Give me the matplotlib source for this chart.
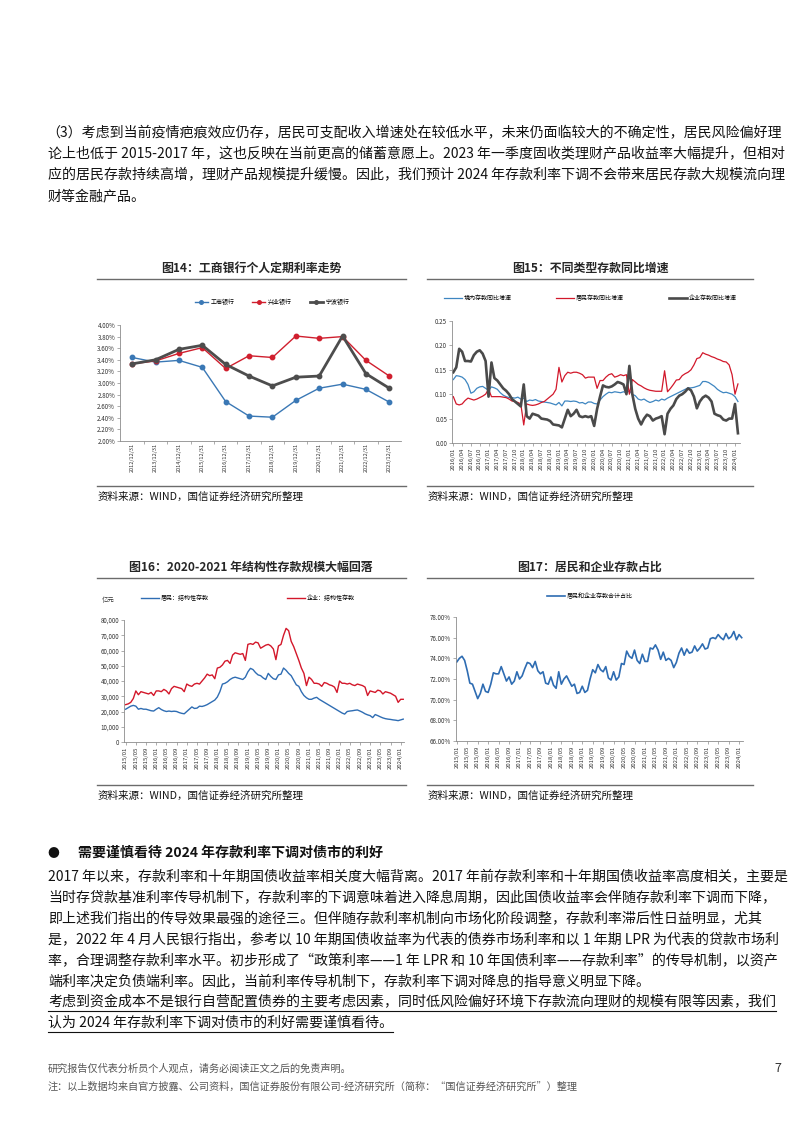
import matplotlib
matplotlib.use('Agg')
import matplotlib.pyplot as plt
from matplotlib.lines import Line2D
from matplotlib.ticker import FuncFormatter, MultipleLocator
import numpy as np

plt.rcParams['font.family'] = ['Noto Sans CJK SC', 'DejaVu Sans']
plt.rcParams['axes.unicode_minus'] = False

# ---------------- data ----------------
# Fig 14
years14 = ['2012/12/31', '2013/12/31', '2014/12/31', '2015/12/31', '2016/12/31', '2017/12/31',
           '2018/12/31', '2019/12/31', '2020/12/31', '2021/12/31', '2022/12/31', '2023/12/31']
icbc = [3.44, 3.36, 3.39, 3.27, 2.68, 2.43, 2.41, 2.70, 2.91, 2.98, 2.89, 2.67]
cib = [3.33, 3.38, 3.51, 3.61, 3.25, 3.47, 3.44, 3.81, 3.77, 3.80, 3.39, 3.12]
nbb = [3.33, 3.40, 3.58, 3.65, 3.32, 3.12, 2.95, 3.10, 3.12, 3.81, 3.16, 2.91]
names14 = ['工商银行', '兴业银行', '宁波银行']

# Fig 15 (monthly, 2016/01 - 2024/02)
names15 = ['境内存款同比增速', '居民存款同比增速', '企业存款同比增速']
domestic = [0.130, 0.138, 0.137, 0.135, 0.130, 0.120, 0.102, 0.105, 0.112, 0.115, 0.116, 0.112,
            0.108, 0.115, 0.113, 0.110, 0.103, 0.098, 0.095, 0.093, 0.093, 0.092, 0.094, 0.090,
            0.092, 0.085, 0.088, 0.087, 0.089, 0.086, 0.085, 0.084, 0.083, 0.082, 0.080, 0.078,
            0.083, 0.076, 0.086, 0.086, 0.085, 0.086, 0.085, 0.082, 0.083, 0.080, 0.084, 0.084,
            0.081, 0.080, 0.088, 0.095, 0.100, 0.104, 0.103, 0.105, 0.104, 0.103, 0.105, 0.103,
            0.107, 0.100, 0.097, 0.090, 0.088, 0.090, 0.086, 0.083, 0.085, 0.088, 0.086, 0.090,
            0.088, 0.092, 0.095, 0.098, 0.101, 0.104, 0.107, 0.110, 0.113, 0.113, 0.114, 0.116,
            0.118, 0.126, 0.126, 0.124, 0.120, 0.116, 0.110, 0.106, 0.103, 0.104, 0.102, 0.100,
            0.095, 0.085]
resident = [0.095, 0.080, 0.078, 0.080, 0.087, 0.092, 0.090, 0.088, 0.090, 0.093, 0.096, 0.100,
            0.110, 0.095, 0.095, 0.095, 0.095, 0.094, 0.093, 0.090, 0.086, 0.085, 0.083, 0.080,
            0.037, 0.080, 0.078, 0.077, 0.078, 0.080, 0.083, 0.085, 0.090, 0.095, 0.100, 0.110,
            0.155, 0.125, 0.138, 0.145, 0.143, 0.145, 0.145, 0.143, 0.140, 0.133, 0.135, 0.135,
            0.135, 0.112, 0.128, 0.128, 0.135, 0.140, 0.142, 0.135, 0.137, 0.140, 0.138, 0.140,
            0.100, 0.130, 0.125, 0.120, 0.117, 0.113, 0.110, 0.108, 0.107, 0.106, 0.106, 0.106,
            0.148, 0.105, 0.112, 0.120, 0.129, 0.130, 0.138, 0.142, 0.145, 0.150, 0.160, 0.173,
            0.175, 0.185, 0.182, 0.180, 0.177, 0.175, 0.172, 0.170, 0.167, 0.166, 0.160, 0.140,
            0.100, 0.121]
enterprise = [0.145, 0.155, 0.193, 0.187, 0.168, 0.168, 0.167, 0.180, 0.187, 0.190, 0.183, 0.168,
              0.095, 0.165, 0.133, 0.128, 0.120, 0.112, 0.107, 0.100, 0.090, 0.085, 0.080, 0.075,
              0.120, 0.055, 0.050, 0.060, 0.058, 0.056, 0.050, 0.049, 0.048, 0.045, 0.038, 0.037,
              0.036, 0.032, 0.050, 0.068, 0.055, 0.060, 0.068, 0.055, 0.053, 0.055, 0.053, 0.055,
              0.035, 0.070, 0.095, 0.118, 0.115, 0.114, 0.116, 0.120, 0.125, 0.123, 0.120, 0.100,
              0.158, 0.100, 0.070, 0.050, 0.038, 0.050, 0.058, 0.055, 0.046, 0.050, 0.052, 0.055,
              0.018, 0.060, 0.070, 0.077, 0.090, 0.097, 0.100, 0.105, 0.112, 0.108, 0.095, 0.071,
              0.085, 0.093, 0.097, 0.093, 0.085, 0.060, 0.057, 0.055, 0.048, 0.046, 0.050, 0.050,
              0.080, 0.020]

# Fig 16 (monthly, 2015/01 - 2024/02), 亿元
names16 = ['居民：结构性存款', '企业：结构性存款']
res_struct = [21500, 22500, 23500, 24000, 23500, 21500, 22000, 21500, 21500, 21000, 20500, 20300,
              21500, 22500, 21300, 20500, 20000, 20300, 20000, 20200, 20000, 19300, 18800, 18500,
              20000, 21500, 23000, 22000, 22200, 23500, 23300, 23800, 24500, 25500, 26500, 27500,
              29500, 33000, 38000, 38500, 39500, 41000, 42000, 42500, 42000, 41500, 41000, 42500,
              46000, 48300, 47500, 45500, 44000, 43500, 42000, 41000, 45000, 43000, 41500, 41000,
              44000, 44500, 48500, 47000, 45000, 43500, 40500, 37500, 36500, 33000, 30500, 29000,
              28000, 28000, 28800, 29300, 28000, 27000, 26000, 25000, 24000, 23000, 22000, 21000,
              20000, 19000, 18300, 20000, 20300, 20500, 20800, 21000, 20300, 19500, 18500, 17800,
              17300, 16000, 18000, 17300, 16500, 15800, 15300, 15000, 14800, 14500, 14300, 14000,
              14500, 15000]
ent_struct = [24500, 25000, 26000, 28500, 33500, 31000, 33000, 32500, 32000, 31500, 32500, 30500,
              33500, 33500, 33000, 34500, 33500, 31500, 35000, 36500, 36000, 35500, 35000, 33000,
              38000, 37000, 36500, 38000, 38500, 38000, 40000, 42000, 44500, 43500, 44000, 41500,
              48500, 49000, 50500, 53000, 53500, 51500, 57000, 58500, 58000, 57500, 58000, 53500,
              64000, 64500, 64000, 65500, 65000, 61500, 62500, 63500, 64000, 63000, 61000, 54000,
              63000, 64000, 70000, 74500, 73000, 66000, 62500, 58000, 53500, 48500, 45000, 37000,
              42500, 41000, 38500, 38500, 38000, 36500, 39000, 38500, 37500, 37000, 36000, 32500,
              40000, 38500, 38500, 38000, 38500, 37500, 37000, 38000, 37500, 37000, 36000, 30500,
              33500, 33000, 32500, 34000, 33500, 31500, 33000, 32500, 32000, 31000, 30000, 26000,
              28000, 28000]

# Fig 17 (monthly, 2015/01 - 2024/02), %
name17 = '居民和企业存款合计占比'
share = [73.65, 74.0, 74.2, 73.8, 72.8, 71.6, 71.5, 70.8, 70.1, 70.6, 71.5, 70.8,
         70.7, 71.5, 72.6, 72.5, 72.5, 73.2, 72.5, 71.8, 72.2, 71.5, 71.8, 72.7,
         72.0, 72.3, 73.0, 73.6, 73.5, 73.1, 73.7, 72.8, 72.5, 72.7, 71.6, 71.5,
         72.2, 71.4, 71.1, 72.7, 71.5, 72.0, 72.3, 71.8, 71.3, 71.5, 70.6, 70.7,
         71.3, 70.7, 70.9, 72.0, 72.9, 72.6, 73.4, 72.9, 72.7, 73.2, 72.1, 71.9,
         72.7, 71.9, 72.2, 73.5, 73.4, 74.7, 74.2, 74.0, 74.8, 73.8, 73.5, 74.4,
         73.7, 73.7, 75.0, 74.9, 75.3, 74.8, 73.9, 74.6, 73.8, 74.0, 73.8, 73.1,
         73.6, 74.5, 75.0, 74.3, 74.9, 74.5, 74.6, 75.2, 74.7, 75.0, 75.4, 74.9,
         75.0, 75.9, 76.0, 75.9, 76.3, 76.0, 75.8, 76.4, 75.9, 76.1, 76.6, 75.8,
         76.3, 76.0]


def month_labels(y0, m0, n):
    out = []
    y, m = y0, m0
    for _ in range(n):
        out.append(f'{y}/{m:02d}')
        m += 1
        if m > 12:
            m = 1
            y += 1
    return out


months15 = month_labels(2016, 1, len(domestic))
months16 = month_labels(2015, 1, len(res_struct))
months17 = month_labels(2015, 1, len(share))

# ---------------- page ----------------
W, H = 802, 1133
fig = plt.figure(figsize=(W / 100, H / 100), dpi=100)
fig.patch.set_facecolor('white')


def fx(x):
    return x / W


def fy(y):
    return 1 - y / H


def add_ax(l, t, r, b):
    return fig.add_axes([l / W, 1 - b / H, (r - l) / W, (b - t) / H])


def hline(x0, x1, y, lw=1.0, color='#6b6b6b'):
    fig.add_artist(Line2D([fx(x0), fx(x1)], [fy(y), fy(y)], transform=fig.transFigure,
                          lw=lw, color=color))


BODY = 10.05


def txt(x, y, s, size=BODY, ha='left', va='center', **kw):
    kw.setdefault('color', '#111111')
    return fig.text(fx(x), fy(y), s, fontsize=size, ha=ha, va=va, **kw)


def style(ax):
    for s in ['top', 'right']:
        ax.spines[s].set_visible(False)
    for s in ['left', 'bottom']:
        ax.spines[s].set_color('#8c8c8c')
        ax.spines[s].set_linewidth(0.6)
    ax.tick_params(axis='both', labelsize=4.5, colors='#8c8c8c', labelcolor='#333333',
                   length=2, width=0.5, pad=1.5)
    ax.set_facecolor('none')


# ---------------- top paragraph ----------------
top_lines = [
    '（3）考虑到当前疫情疤痕效应仍存，居民可支配收入增速处在较低水平，未来仍面临较大的不确定性，居民风险偏好理',
    '论上也低于 2015-2017 年，这也反映在当前更高的储蓄意愿上。2023 年一季度固收类理财产品收益率大幅提升，但相对',
    '应的居民存款持续高增，理财产品规模提升缓慢。因此，我们预计 2024 年存款利率下调不会带来居民存款大规模流向理',
    '财等金融产品。',
]
for i, s in enumerate(top_lines):
    txt(46 if i == 0 else 48, 133 + i * 21, s)

# ---------------- chart titles / frames ----------------
title_kw = dict(size=8.6, ha='center', weight='bold', color='#262626')
txt(251, 268, '图14：工商银行个人定期利率走势', **title_kw)
txt(590, 268, '图15：不同类型存款同比增速', **title_kw)
txt(251, 567, '图16：2020-2021 年结构性存款规模大幅回落', **title_kw)
txt(590, 567, '图17：居民和企业存款占比', **title_kw)
hline(97, 406, 279)
hline(427, 753, 279)
hline(97, 406, 578)
hline(427, 753, 578)
hline(97, 406, 486)
hline(427, 753, 486)
hline(97, 406, 785)
hline(427, 753, 785)
src = '资料来源：WIND，国信证券经济研究所整理'
txt(98, 497, src, size=7.6)
txt(428, 497, src, size=7.6)
txt(98, 796, src, size=7.6)
txt(428, 796, src, size=7.6)

# ---------------- Fig 14 ----------------
ax14 = add_ax(120, 325, 401, 441)
style(ax14)
x14 = np.arange(len(years14))
c_blue14, c_red14, c_gray14 = '#3A78B5', '#D01F2E', '#4D4D4D'
ax14.plot(x14, icbc, color=c_blue14, lw=1.0, marker='o', ms=3.2, label=names14[0])
ax14.plot(x14, cib, color=c_red14, lw=1.0, marker='o', ms=3.2, label=names14[1])
ax14.plot(x14, nbb, color=c_gray14, lw=2.0, marker='o', ms=3.2, label=names14[2])
ax14.set_ylim(2.0, 4.0)
ax14.yaxis.set_major_locator(MultipleLocator(0.2))
ax14.yaxis.set_major_formatter(FuncFormatter(lambda v, p: f'{v:.2f}%'))
ax14.set_xlim(-0.52, 11.5)
ax14.set_xticks(x14)
ax14.set_xticklabels(years14, rotation=90, fontsize=4.0)
ax14.tick_params(axis='x', length=0)
ax14.set_xticks(x14[1:] - 0.5, minor=True)
ax14.tick_params(axis='x', which='minor', length=2, width=0.5, colors='#8c8c8c')
ax14.legend(loc='center', bbox_to_anchor=(fx(272), fy(302)), bbox_transform=fig.transFigure,
            ncol=3, frameon=False, fontsize=4.3, handlelength=2.2, columnspacing=3.0,
            handletextpad=0.4, markerscale=0.8)

# ---------------- Fig 15 ----------------
ax15 = add_ax(452, 321, 740, 443)
style(ax15)
x15 = np.arange(len(domestic))
ax15.plot(x15, domestic, color='#3E86C1', lw=0.9, label=names15[0])
ax15.plot(x15, resident, color='#D2182B', lw=0.9, label=names15[1])
ax15.plot(x15, enterprise, color='#4A4A4A', lw=1.9, label=names15[2])
ax15.set_ylim(0, 0.25)
ax15.yaxis.set_major_locator(MultipleLocator(0.05))
ax15.yaxis.set_major_formatter(FuncFormatter(lambda v, p: f'{v:.2f}'))
ax15.set_xlim(-0.45, 97.7)
ax15.set_xticks(x15[::3])
ax15.set_xticklabels(months15[::3], rotation=90, fontsize=4.3)
ax15.legend(loc='center', bbox_to_anchor=(fx(590), fy(298)), bbox_transform=fig.transFigure,
            ncol=3, frameon=False, fontsize=4.3, handlelength=3.0, columnspacing=7.5,
            handletextpad=0.3)

# ---------------- Fig 16 ----------------
ax16 = add_ax(124, 620, 404, 742)
style(ax16)
x16 = np.arange(len(res_struct))
ax16.plot(x16, res_struct, color='#2F6DB3', lw=1.0, label=names16[0])
ax16.plot(x16, ent_struct, color='#D3172A', lw=1.0, label=names16[1])
ax16.set_ylim(0, 80000)
ax16.yaxis.set_major_locator(MultipleLocator(10000))
ax16.yaxis.set_major_formatter(FuncFormatter(lambda v, p: f'{int(v):,}'))
ax16.set_xlim(-0.65, 109.3)
ax16.set_xticks(x16[::4])
ax16.set_xticklabels(months16[::4], rotation=90, fontsize=4.3)
txt(108, 600, '亿元', size=4.6, ha='center', color='#333333')
ax16.legend(loc='center', bbox_to_anchor=(fx(248), fy(598)), bbox_transform=fig.transFigure,
            ncol=2, frameon=False, fontsize=4.3, handlelength=3.0, columnspacing=13.0,
            handletextpad=0.4)

# ---------------- Fig 17 ----------------
ax17 = add_ax(456, 617, 743, 741)
style(ax17)
x17 = np.arange(len(share))
ax17.plot(x17, share, color='#2E6CB2', lw=1.2, label=name17)
ax17.set_ylim(66, 78)
ax17.yaxis.set_major_locator(MultipleLocator(2))
ax17.yaxis.set_major_formatter(FuncFormatter(lambda v, p: f'{v:.2f}%'))
ax17.set_xlim(-0.3, 109.5)
ax17.set_xticks(x17[::4])
ax17.set_xticklabels(months17[::4], rotation=90, fontsize=4.3)
ax17.legend(loc='center', bbox_to_anchor=(fx(590), fy(596)), bbox_transform=fig.transFigure,
            ncol=1, frameon=False, fontsize=4.3, handlelength=3.0, handletextpad=0.4)

# ---------------- bottom section ----------------
txt(53, 853, '●', size=8.5, ha='center')
txt(78, 853, '需要谨慎看待 2024 年存款利率下调对债市的利好', weight='bold')
body = [
    '2017 年以来，存款利率和十年期国债收益率相关度大幅背离。2017 年前存款利率和十年期国债收益率高度相关，主要是',
    '当时存贷款基准利率传导机制下，存款利率的下调意味着进入降息周期，因此国债收益率会伴随存款利率下调而下降，',
    '即上述我们指出的传导效果最强的途径三。但伴随存款利率机制向市场化阶段调整，存款利率滞后性日益明显，尤其',
    '是，2022 年 4 月人民银行指出，参考以 10 年期国债收益率为代表的债券市场利率和以 1 年期 LPR 为代表的贷款市场利',
    '率，合理调整存款利率水平。初步形成了“政策利率——1 年 LPR 和 10 年国债利率——存款利率”的传导机制，以资产',
    '端利率决定负债端利率。因此，当前利率传导机制下，存款利率下调对降息的指导意义明显下降。',
]
for i, s in enumerate(body):
    txt(48, 877 + i * 21, s)
under = [
    '考虑到资金成本不是银行自营配置债券的主要考虑因素，同时低风险偏好环境下存款流向理财的规模有限等因素，我们',
    '认为 2024 年存款利率下调对债市的利好需要谨慎看待。',
]
under_texts = []
for i, s in enumerate(under):
    under_texts.append((txt(48, 1002 + i * 21, s), 1002 + i * 21))

fig.canvas.draw()
renderer = fig.canvas.get_renderer()
for t, yy in under_texts:
    bb = t.get_window_extent(renderer)
    hline(48, 48 + bb.width, yy + 9, lw=0.8, color='#111111')

# ---------------- footer ----------------
txt(48, 1069, '研究报告仅代表分析员个人观点，请务必阅读正文之后的免责声明。', size=7.3, color='#555555')
txt(48, 1087, '注：以上数据均来自官方披露、公司资料，国信证券股份有限公司-经济研究所（简称：“国信证券经济研究所”）整理',
    size=7.3, color='#555555')
txt(778, 1069, '7', size=9, ha='center', color='#333333')

fig.savefig('out.png', dpi=100, facecolor='white')
